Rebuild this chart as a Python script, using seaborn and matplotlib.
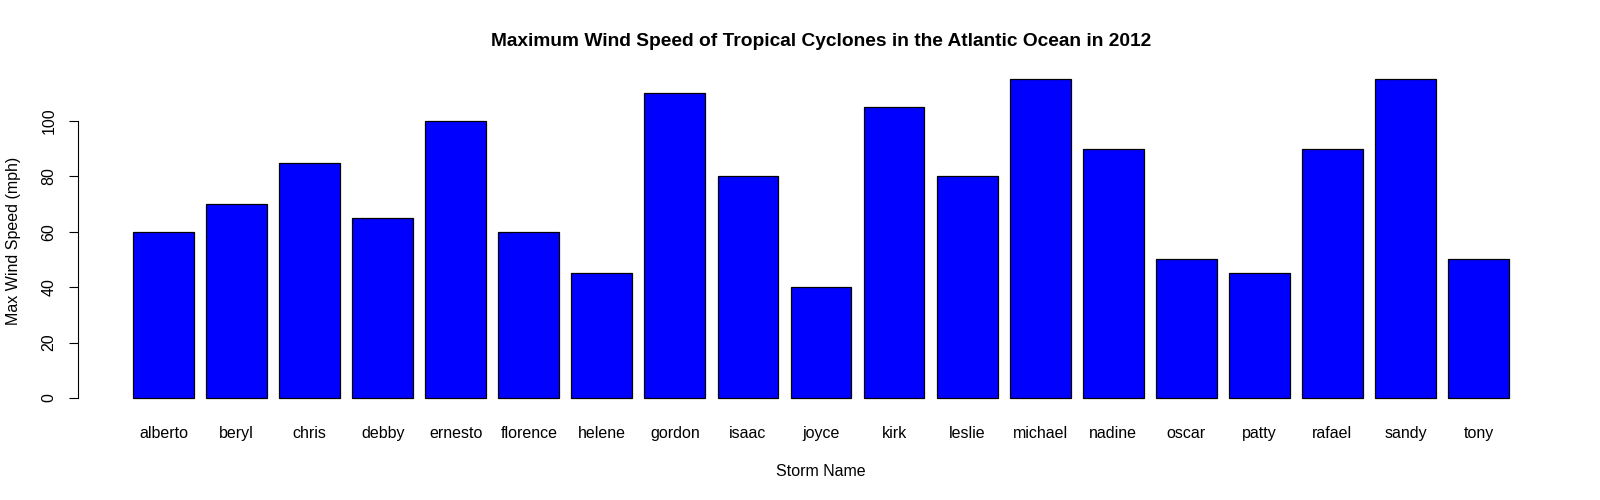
import matplotlib
matplotlib.use("Agg")
import matplotlib.pyplot as plt
import seaborn as sns
import pandas as pd

# storm names and max wind speeds (mph), Atlantic 2012
storms = ["alberto", "beryl", "chris", "debby", "ernesto", "florence", "helene",
          "gordon", "isaac", "joyce", "kirk", "leslie", "michael", "nadine",
          "oscar", "patty", "rafael", "sandy", "tony"]
max_wind = [60, 70, 85, 65, 100, 60, 45, 110, 80, 40, 105, 80, 115, 90,
            50, 45, 90, 115, 50]
y_ticks = [0, 20, 40, 60, 80, 100]

df = pd.DataFrame({"storm": storms, "wind": max_wind})

sns.set_style("white")
plt.rcParams["font.family"] = ["Liberation Sans", "DejaVu Sans"]
plt.rcParams["text.color"] = "black"

W, H = 1600, 500
fs = 11.5
fig = plt.figure(figsize=(16, 5), dpi=100)
# plot region in pixels (R style margins)
left, right, top, bottom = 78, 1564, 66.7, 410.7
ax = fig.add_axes([left / W, 1 - bottom / H, (right - left) / W, (bottom - top) / H])

sns.barplot(data=df, x="storm", y="wind", order=storms, color="#0000ff",
            saturation=1, width=1 / 1.2, edgecolor="black", linewidth=0.9, ax=ax)

n = len(storms)
half = 0.5 / 1.2
span = (n - 1) + 2 * half
ax.set_xlim(-half - 0.04 * span, n - 1 + half + 0.04 * span)
ymax = max(max_wind)
ax.set_ylim(-0.04 * ymax, ymax * 1.04)

for s in ["top", "right", "bottom"]:
    ax.spines[s].set_visible(False)
ax.spines["left"].set_bounds(0, 100)
ax.spines["left"].set_linewidth(0.8)
ax.spines["left"].set_color("black")

ax.set_yticks(y_ticks)
ax.set_yticklabels([str(v) for v in y_ticks], rotation=90, va="center")
ax.tick_params(axis="y", left=True, length=6.5, width=0.8, color="black",
               pad=9, labelsize=fs, labelcolor="black")
ax.tick_params(axis="x", bottom=False, length=0, pad=11, labelsize=fs,
               labelcolor="black")
ax.set_xlabel("")
ax.set_ylabel("")

fig.text((left + right) / 2 / W, 1 - 46.5 / H,
         "Maximum Wind Speed of Tropical Cyclones in the Atlantic Ocean in 2012",
         ha="center", va="baseline", fontsize=13.8, fontweight="bold", color="black")
fig.text((left + right) / 2 / W, 1 - 476 / H, "Storm Name",
         ha="center", va="baseline", fontsize=fs, color="black")
fig.text(14 / W, 1 - 241 / H, "Max Wind Speed (mph)",
         ha="center", va="center", rotation=90, fontsize=fs, color="black")

fig.savefig("out.png", dpi=100)
